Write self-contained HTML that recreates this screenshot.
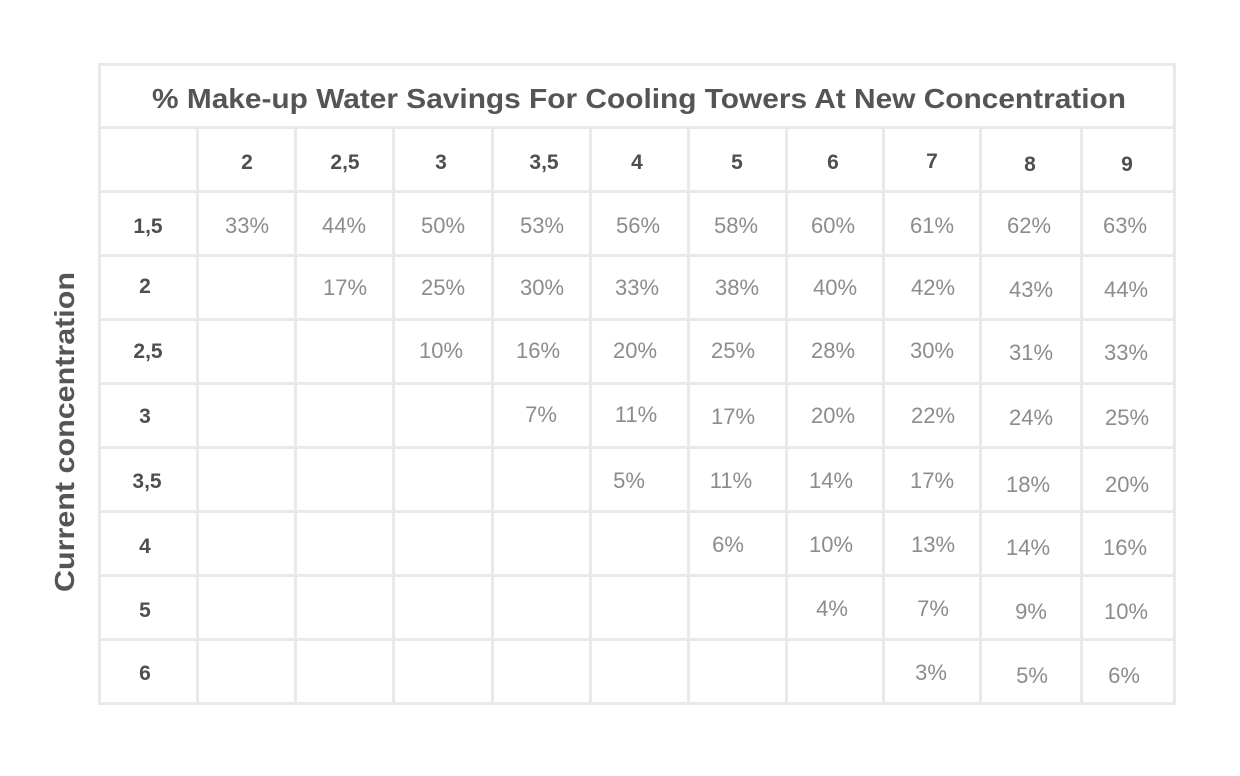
<!DOCTYPE html>
<html>
<head>
<meta charset="utf-8">
<style>
  html,body{margin:0;padding:0;background:#fff;}
  svg{display:block;}
  .v{font-family:"Liberation Sans",sans-serif;font-size:22px;fill:#8c8c8c;text-anchor:middle;}
  .h{font-family:"Liberation Sans",sans-serif;font-size:21px;font-weight:bold;fill:#4f4f4f;text-anchor:middle;}
</style>
</head>
<body>
<svg width="1240" height="776" viewBox="0 0 1240 776" xmlns="http://www.w3.org/2000/svg">
  <rect x="0" y="0" width="1240" height="776" fill="#fff"/>
  <g fill="#e9e9e9">
    <!-- outer border -->
    <rect x="98" y="63" width="1078" height="3"/>
    <rect x="98" y="702" width="1078" height="3"/>
    <rect x="98" y="63" width="3" height="642"/>
    <rect x="1173" y="63" width="3" height="642"/>
    <!-- horizontal lines -->
    <rect x="98" y="126" width="1078" height="3"/>
    <rect x="98" y="190" width="1078" height="3"/>
    <rect x="98" y="254" width="1078" height="3"/>
    <rect x="98" y="318" width="1078" height="3"/>
    <rect x="98" y="382" width="1078" height="3"/>
    <rect x="98" y="446" width="1078" height="3"/>
    <rect x="98" y="510" width="1078" height="3"/>
    <rect x="98" y="574" width="1078" height="3"/>
    <rect x="98" y="638" width="1078" height="3"/>
    <!-- vertical lines -->
    <rect x="196" y="126" width="3" height="579"/>
    <rect x="294" y="126" width="3" height="579"/>
    <rect x="392" y="126" width="3" height="579"/>
    <rect x="491" y="126" width="3" height="579"/>
    <rect x="589" y="126" width="3" height="579"/>
    <rect x="687" y="126" width="3" height="579"/>
    <rect x="785" y="126" width="3" height="579"/>
    <rect x="882" y="126" width="3" height="579"/>
    <rect x="979" y="126" width="3" height="579"/>
    <rect x="1080" y="126" width="3" height="579"/>
  </g>

  <!-- title -->
  <text x="152" y="108" textLength="974" lengthAdjust="spacingAndGlyphs" style="font-family:'Liberation Sans',sans-serif;font-size:28px;font-weight:bold;fill:#555;">% Make-up Water Savings For Cooling Towers At New Concentration</text>

  <!-- vertical label -->
  <text transform="translate(74,432) rotate(-90)" x="0" y="0" text-anchor="middle" textLength="320" lengthAdjust="spacingAndGlyphs" style="font-family:'Liberation Sans',sans-serif;font-size:28px;font-weight:bold;fill:#555;">Current concentration</text>

  <!-- header -->
  <text class="h" x="247" y="169">2</text>
  <text class="h" x="345" y="169">2,5</text>
  <text class="h" x="441" y="169">3</text>
  <text class="h" x="544" y="169">3,5</text>
  <text class="h" x="637" y="169">4</text>
  <text class="h" x="737" y="169">5</text>
  <text class="h" x="833" y="169">6</text>
  <text class="h" x="932" y="168">7</text>
  <text class="h" x="1030" y="171">8</text>
  <text class="h" x="1127" y="171">9</text>

  <!-- row labels -->
  <text class="h" x="148" y="233">1,5</text>
  <text class="h" x="145" y="293">2</text>
  <text class="h" x="148" y="358">2,5</text>
  <text class="h" x="145" y="423">3</text>
  <text class="h" x="147" y="488">3,5</text>
  <text class="h" x="145" y="553">4</text>
  <text class="h" x="145" y="617">5</text>
  <text class="h" x="145" y="680">6</text>

  <!-- row 1,5 -->
  <text class="v" x="247" y="233">33%</text>
  <text class="v" x="344" y="233">44%</text>
  <text class="v" x="443" y="233">50%</text>
  <text class="v" x="542" y="233">53%</text>
  <text class="v" x="638" y="233">56%</text>
  <text class="v" x="736" y="233">58%</text>
  <text class="v" x="833" y="233">60%</text>
  <text class="v" x="932" y="233">61%</text>
  <text class="v" x="1029" y="233">62%</text>
  <text class="v" x="1125" y="233">63%</text>

  <!-- row 2 -->
  <text class="v" x="345" y="295">17%</text>
  <text class="v" x="443" y="295">25%</text>
  <text class="v" x="542" y="295">30%</text>
  <text class="v" x="637" y="295">33%</text>
  <text class="v" x="737" y="295">38%</text>
  <text class="v" x="835" y="295">40%</text>
  <text class="v" x="933" y="295">42%</text>
  <text class="v" x="1031" y="297">43%</text>
  <text class="v" x="1126" y="297">44%</text>

  <!-- row 2,5 -->
  <text class="v" x="441" y="358">10%</text>
  <text class="v" x="538" y="358">16%</text>
  <text class="v" x="635" y="358">20%</text>
  <text class="v" x="733" y="358">25%</text>
  <text class="v" x="833" y="358">28%</text>
  <text class="v" x="932" y="358">30%</text>
  <text class="v" x="1031" y="360">31%</text>
  <text class="v" x="1126" y="360">33%</text>

  <!-- row 3 -->
  <text class="v" x="541" y="422">7%</text>
  <text class="v" x="636" y="422">11%</text>
  <text class="v" x="733" y="424">17%</text>
  <text class="v" x="833" y="423">20%</text>
  <text class="v" x="933" y="423">22%</text>
  <text class="v" x="1031" y="425">24%</text>
  <text class="v" x="1127" y="425">25%</text>

  <!-- row 3,5 -->
  <text class="v" x="629" y="488">5%</text>
  <text class="v" x="731" y="488">11%</text>
  <text class="v" x="831" y="488">14%</text>
  <text class="v" x="932" y="488">17%</text>
  <text class="v" x="1028" y="492">18%</text>
  <text class="v" x="1127" y="492">20%</text>

  <!-- row 4 -->
  <text class="v" x="728" y="552">6%</text>
  <text class="v" x="831" y="552">10%</text>
  <text class="v" x="933" y="552">13%</text>
  <text class="v" x="1028" y="555">14%</text>
  <text class="v" x="1125" y="555">16%</text>

  <!-- row 5 -->
  <text class="v" x="832" y="616">4%</text>
  <text class="v" x="933" y="616">7%</text>
  <text class="v" x="1031" y="619">9%</text>
  <text class="v" x="1126" y="619">10%</text>

  <!-- row 6 -->
  <text class="v" x="931" y="680">3%</text>
  <text class="v" x="1032" y="683">5%</text>
  <text class="v" x="1124" y="683">6%</text>
</svg>
</body>
</html>
